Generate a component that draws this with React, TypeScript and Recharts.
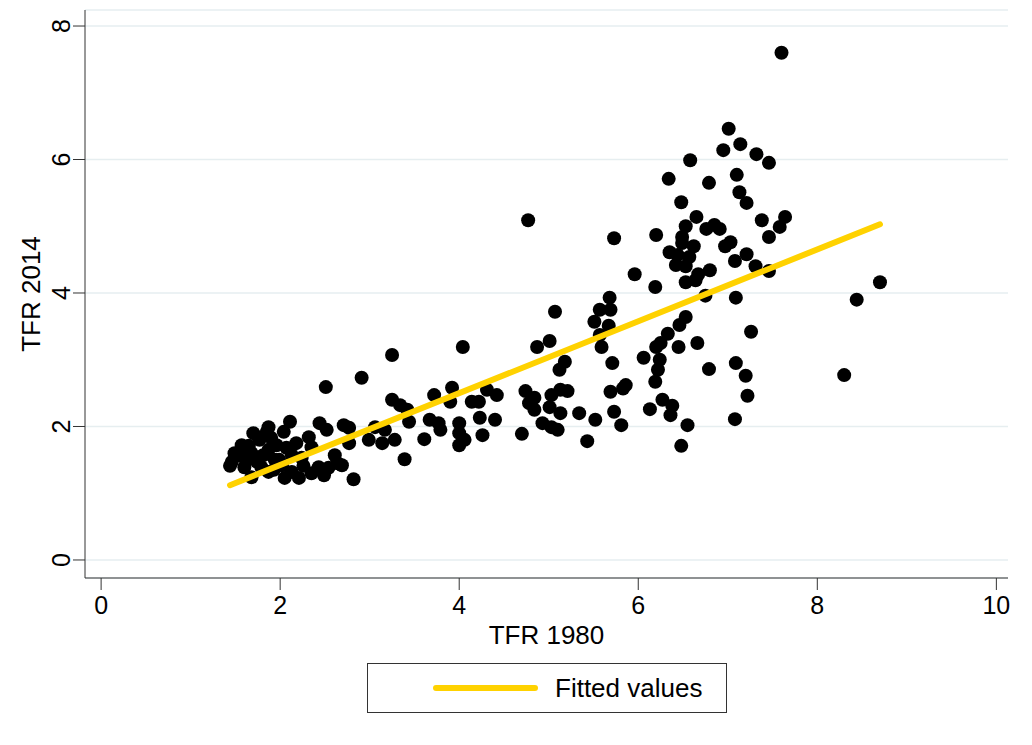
import { ScatterChart, Scatter, XAxis, YAxis, CartesianGrid, Legend } from "recharts";

document.body.style.margin = "0";

// TFR 1980 (x) and TFR 2014 (y), one entry per country
const tfr1980 = [
  1.44, 1.49, 1.46, 1.57, 1.68, 1.7, 1.6, 1.79, 1.68, 1.87, 1.87, 1.94, 1.87, 2.04, 2.11, 2.18, 2.32, 2.35,
  2.13, 2.05, 2.21, 2.35, 2.43, 2.44, 2.52, 2.71, 2.77, 2.61, 2.69, 2.54, 2.49, 2.82, 2.51, 1.77, 1.81, 1.96,
  1.99, 2.07, 1.62, 1.55, 1.9, 2.24, 2.02, 1.74, 1.85, 2.13, 2.26, 2.64, 1.65, 1.93,
  3.25, 4.04, 2.91, 2.77, 3.25, 3.34, 3.42, 3.44, 3.06, 3.17, 2.99, 3.14, 3.28, 3.39, 3.61, 3.72, 3.92, 3.9,
  3.67, 3.77, 3.79, 4.0, 4.0, 4.06, 4.0, 4.14, 4.22, 4.31, 4.42, 4.23, 4.26, 4.4, 4.7,
  4.77, 5.73, 6.2, 5.96, 6.19, 5.68, 5.57, 5.69, 5.51, 5.67, 5.57, 5.59, 5.07, 5.01, 4.87, 5.18, 5.12, 4.74,
  4.84, 4.78, 4.84, 5.03, 5.13, 5.21, 5.01, 4.93, 5.13, 5.03, 5.1, 5.34, 5.52, 5.43, 5.71, 5.69, 5.73, 5.81,
  5.86, 5.83, 6.06, 6.13, 6.2, 6.24, 6.22, 6.19, 6.27,
  7.01, 6.95, 7.14, 7.32, 7.46, 6.58, 6.34, 6.79, 7.1, 7.13, 7.21, 6.48, 6.65, 6.53, 6.76, 6.85, 6.91, 7.38,
  7.64, 7.58, 6.49, 6.49, 6.62, 6.57, 6.35, 6.44, 6.42, 6.53, 7.46, 7.03, 6.97, 7.21, 7.08, 7.31, 7.46, 6.8,
  6.67, 6.64, 6.53, 6.75, 7.09, 6.53, 6.46, 6.33, 6.25, 6.45, 6.66, 7.26, 6.79, 7.09, 7.2, 7.22, 6.38, 6.36,
  6.55, 6.48, 7.08, 7.6, 8.7, 8.44, 8.3,
];
const tfr2014 = [
  1.41, 1.6, 1.47, 1.72, 1.6, 1.9, 1.39, 1.39, 1.24, 1.99, 1.65, 1.5, 1.32, 1.92, 2.07, 1.75, 1.84, 1.69,
  1.32, 1.23, 1.23, 1.3, 1.39, 2.05, 1.95, 2.02, 1.98, 1.57, 1.42, 1.38, 1.27, 1.21, 2.59, 1.8, 1.57, 1.72,
  1.5, 1.68, 1.5, 1.57, 1.83, 1.53, 1.42, 1.47, 1.92, 1.57, 1.41, 1.45, 1.71, 1.35,
  3.07, 3.19, 2.73, 1.75, 2.4, 2.32, 2.25, 2.07, 1.99, 1.95, 1.8, 1.75, 1.8, 1.51, 1.81, 2.47, 2.58, 2.37,
  2.1, 2.05, 1.95, 2.05, 1.9, 1.8, 1.72, 2.37, 2.37, 2.55, 2.47, 2.13, 1.87, 2.1, 1.89,
  5.09, 4.82, 4.87, 4.28, 4.09, 3.93, 3.75, 3.75, 3.57, 3.51, 3.37, 3.19, 3.72, 3.28, 3.19, 2.97, 2.85, 2.53,
  2.43, 2.35, 2.25, 2.47, 2.55, 2.53, 2.29, 2.05, 2.2, 1.99, 1.95, 2.2, 2.1, 1.78, 2.95, 2.52, 2.22, 2.02,
  2.62, 2.57, 3.03, 2.26, 3.19, 3.0, 2.85, 2.67, 2.4,
  6.46, 6.14, 6.23, 6.08, 5.95, 5.99, 5.71, 5.65, 5.77, 5.51, 5.35, 5.36, 5.14, 5.0, 4.96, 5.02, 4.96, 5.09,
  5.14, 4.99, 4.84, 4.75, 4.7, 4.54, 4.61, 4.57, 4.42, 4.4, 4.84, 4.76, 4.7, 4.58, 4.48, 4.4, 4.33, 4.34,
  4.28, 4.19, 4.16, 3.96, 3.93, 3.64, 3.52, 3.39, 3.25, 3.19, 3.25, 3.42, 2.86, 2.95, 2.76, 2.46, 2.31, 2.17,
  2.02, 1.71, 2.11, 7.6, 4.16, 3.9, 2.77,
];

// linear fit, read at the two ends
const fittedX = [1.44, 8.7];
const fittedY = [1.12, 5.03];

const xTicks = [0, 2, 4, 6, 8, 10];
const yTicks = [0, 2, 4, 6, 8];

const points = tfr1980.map((x, i) => ({ x, y: tfr2014[i] }));
const fitted = fittedX.map((x, i) => ({ x, y: fittedY[i] }));

const FONT = "'Liberation Sans', Arial, sans-serif";
const GOLD = "#FFD200";
const AXIS = "#333";
const FIT_NAME = "Fitted values";

const Dot = (props: any) => <circle cx={props.cx} cy={props.cy} r={7} fill="#000" />;

const YTick = ({ x, y, payload }: any) => (
  <text
    x={x}
    y={y}
    transform={`rotate(-90, ${x}, ${y})`}
    textAnchor="middle"
    fontFamily={FONT}
    fontSize={25}
    fill="#000"
  >
    {payload.value}
  </text>
);

const YTitle = ({ viewBox }: any) => {
  const cx = viewBox.x + 40;
  const cy = viewBox.y + viewBox.height / 2;
  return (
    <text x={cx} y={cy} transform={`rotate(-90, ${cx}, ${cy})`} textAnchor="middle" fontFamily={FONT} fontSize={26} fill="#000">
      TFR 2014
    </text>
  );
};

const XTitle = ({ viewBox }: any) => (
  <text x={viewBox.x + viewBox.width / 2} y={viewBox.y + 66} textAnchor="middle" fontFamily={FONT} fontSize={26} fill="#000">
    TFR 1980
  </text>
);

// only the fitted line goes in the legend
const LegendBox = () => (
  <div
    style={{
      boxSizing: "border-box",
      width: 360,
      height: 50,
      border: `1.5px solid ${AXIS}`,
      display: "flex",
      alignItems: "center",
      whiteSpace: "nowrap",
      fontFamily: FONT,
      fontSize: 26,
      color: "#000",
    }}
  >
    <span
      style={{ display: "inline-block", width: 105, height: 6, borderRadius: 3, background: GOLD, marginLeft: 65, marginRight: 17 }}
    />
    <span>{FIT_NAME}</span>
  </div>
);

export default function App() {
  return (
    <div style={{ background: "#fff" }}>
      <ScatterChart width={1032} height={745} margin={{ top: 10, right: 24, left: 0, bottom: 32 }}>
        <CartesianGrid vertical={false} stroke="#e6eef0" strokeWidth={1.5} />
        <XAxis
          type="number"
          dataKey="x"
          domain={[-0.18, 10.13]}
          ticks={xTicks}
          allowDataOverflow
          height={85}
          tickSize={12}
          tickMargin={6}
          stroke={AXIS}
          tick={{ fontFamily: FONT, fontSize: 25, fill: "#000" }}
          label={<XTitle />}
        />
        <YAxis
          type="number"
          dataKey="y"
          domain={[-0.27, 8.24]}
          ticks={yTicks}
          allowDataOverflow
          width={85}
          tickSize={12}
          tickMargin={3}
          stroke={AXIS}
          tick={<YTick />}
          label={<YTitle />}
        />
        <Scatter data={points} shape={Dot} legendType="none" isAnimationActive={false} />
        <Scatter
          name={FIT_NAME}
          data={fitted}
          fill={GOLD}
          line={{ stroke: GOLD, strokeWidth: 6, strokeLinecap: "round" }}
          shape={() => <g />}
          legendType="line"
          isAnimationActive={false}
        />
        <Legend verticalAlign="bottom" align="left" content={<LegendBox />} wrapperStyle={{ left: 367, width: 360 }} />
      </ScatterChart>
    </div>
  );
}
